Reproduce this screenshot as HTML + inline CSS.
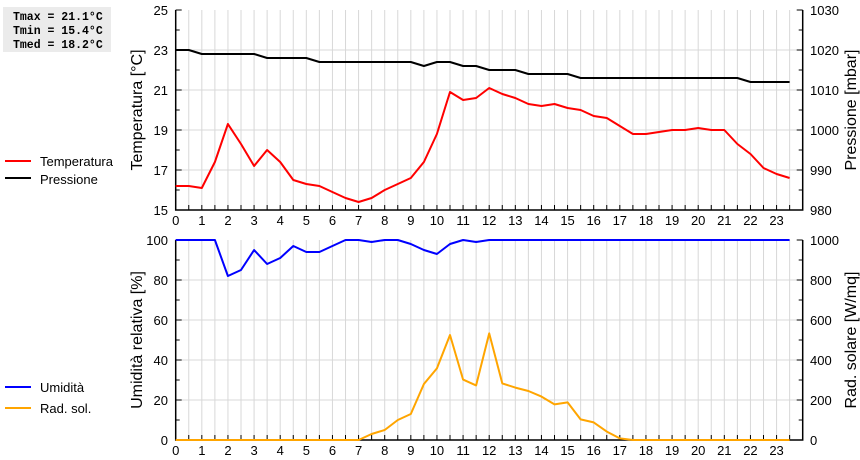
<!DOCTYPE html>
<html><head><meta charset="utf-8"><style>
body{margin:0;background:#fff;}
svg{display:block;font-family:"Liberation Sans",sans-serif;}
</style></head><body>
<svg id="c" width="860" height="460" viewBox="0 0 860 460">
<rect x="3" y="7" width="108" height="45" fill="#ebebeb"/>
<g font-family="Liberation Mono,monospace" font-weight="bold" font-size="11.5">
<text x="13" y="20">Tmax = 21.1°C</text>
<text x="13" y="34">Tmin = 15.4°C</text>
<text x="13" y="48">Tmed = 18.2°C</text>
</g>
<g font-size="13">
<line x1="5" y1="161" x2="31" y2="161" stroke="#f00" stroke-width="2"/><text x="40" y="166">Temperatura</text>
<line x1="5" y1="178" x2="31" y2="178" stroke="#000" stroke-width="2"/><text x="40" y="184">Pressione</text>
</g>
<g font-size="13">
<line x1="5" y1="387" x2="31" y2="387" stroke="#00f" stroke-width="2"/><text x="40" y="392">Umidità</text>
<line x1="5" y1="408" x2="31" y2="408" stroke="orange" stroke-width="2"/><text x="40" y="413">Rad. sol.</text>
</g>
<g id="grid"></g><g id="axes"></g><g id="series"></g>
<text transform="translate(142,110) rotate(-90)" text-anchor="middle" font-size="16">Temperatura [°C]</text>
<text transform="translate(856,110) rotate(-90)" text-anchor="middle" font-size="16">Pressione [mbar]</text>
<text transform="translate(142,340) rotate(-90)" text-anchor="middle" font-size="16">Umidità relativa [%]</text>
<text transform="translate(856,340) rotate(-90)" text-anchor="middle" font-size="16">Rad. solare [W/mq]</text>
</svg>
<script>
const hours=[0,0.5,1,1.5,2,2.5,3,3.5,4,4.5,5,5.5,6,6.5,7,7.5,8,8.5,9,9.5,10,10.5,11,11.5,12,12.5,13,13.5,14,14.5,15,15.5,16,16.5,17,17.5,18,18.5,19,19.5,20,20.5,21,21.5,22,22.5,23,23.5];
const temperature=[16.2,16.2,16.1,17.4,19.3,18.3,17.2,18.0,17.4,16.5,16.3,16.2,15.9,15.6,15.4,15.6,16.0,16.3,16.6,17.4,18.8,20.9,20.5,20.6,21.1,20.8,20.6,20.3,20.2,20.3,20.1,20.0,19.7,19.6,19.2,18.8,18.8,18.9,19.0,19.0,19.1,19.0,19.0,18.3,17.8,17.1,16.8,16.6];
const pressure=[1020,1020,1019,1019,1019,1019,1019,1018,1018,1018,1018,1017,1017,1017,1017,1017,1017,1017,1017,1016,1017,1017,1016,1016,1015,1015,1015,1014,1014,1014,1014,1013,1013,1013,1013,1013,1013,1013,1013,1013,1013,1013,1013,1013,1012,1012,1012,1012];
const humidity=[100,100,100,100,82,85,95,88,91,97,94,94,97,100,100,99,100,100,98,95,93,98,100,99,100,100,100,100,100,100,100,100,100,100,100,100,100,100,100,100,100,100,100,100,100,100,100,100];
const radiation=[0,0,0,0,0,0,0,0,0,0,0,0,0,0,0,30,50,100,130,280,358,525,302,273,533,283,262,245,217,178,188,103,88,42,8,0,0,0,0,0,0,0,0,0,0,0,0,0];
const tempTicks=[15,17,19,21,23,25];
const pressTicks=[980,990,1000,1010,1020,1030];
const humTicks=[0,20,40,60,80,100];
const radTicks=[0,200,400,600,800,1000];
const NS='http://www.w3.org/2000/svg';
const X0=175.7,X1=802.7;
const xs=h=>X0+(X1-X0)*h/24;
const T={top:10,bot:210},B={top:240,bot:440};
const yT=v=>T.bot-(v-15)/10*(T.bot-T.top);
const yP=v=>T.bot-(v-980)/50*(T.bot-T.top);
const yH=v=>B.bot-v/100*(B.bot-B.top);
const yR=v=>B.bot-v/1000*(B.bot-B.top);
function mk(p,tag,a){const e=document.createElementNS(NS,tag);for(const k in a)e.setAttribute(k,a[k]);document.getElementById(p).appendChild(e);return e;}
[T,B].forEach((P,pi)=>{
  for(let i=1;i<48;i++){const x=xs(i/2);
    const g=mk('grid','line',{x1:x,x2:x,y1:P.top,y2:P.bot,stroke:'#d8d8d8','stroke-width':1});
    
    
    const t=mk('axes','line',{x1:x,x2:x,y1:P.bot,y2:P.bot-5,stroke:'#000'});
    
    
  }
  for(let k=1;k<5;k++){const y=P.top+k*(P.bot-P.top)/5;
    const g=mk('grid','line',{x1:X0,x2:X1,y1:y,y2:y,stroke:'#d8d8d8'});
    
    
  }
  for(let k=0;k<=10;k++){const y=P.top+k*(P.bot-P.top)/10;const L=k%2?4:6;
    mk('axes','line',{x1:X0,x2:X0+L,y1:y,y2:y,stroke:'#000'});
    mk('axes','line',{x1:X1,x2:X1-L,y1:y,y2:y,stroke:'#000'});
  }
  const fr=mk('axes','path',{d:`M${X0},${P.top}V${P.bot}H${X1}V${P.top}`,fill:'none',stroke:'#000','stroke-width':1.5});
  
  
  for(let h=0;h<24;h++){
    const t=mk('axes','text',{x:xs(h),y:P.bot+15,'text-anchor':'middle','font-size':13});
    t.textContent=h;
    
    
  }
});
function ylab(ticks,f,x,anchor,name){ticks.forEach(v=>{
  const t=mk('axes','text',{x:x,y:f(v)+5,'text-anchor':anchor,'font-size':13});
  t.textContent=v;
  
  
});}
ylab(tempTicks,yT,168,'end','temp-tick-label');
ylab(pressTicks,yP,810,'start','pressure-tick-label');
ylab(humTicks,yH,168,'end','humidity-tick-label');
ylab(radTicks,yR,810,'start','radiation-tick-label');
function line(vals,f,color,name){
  const d=vals.map((v,i)=>(i?'L':'M')+xs(hours[i]).toFixed(1)+','+f(v).toFixed(1)).join('');
  const p=mk('series','path',{d:d,fill:'none',stroke:color,'stroke-width':2,'stroke-linejoin':'round'});
  
  
}
line(pressure,yP,'#000','pressure-line');
line(temperature,yT,'#f00','temperature-line');
line(radiation,yR,'orange','radiation-line');
line(humidity,yH,'#00f','humidity-line');
</script>
</body></html>
